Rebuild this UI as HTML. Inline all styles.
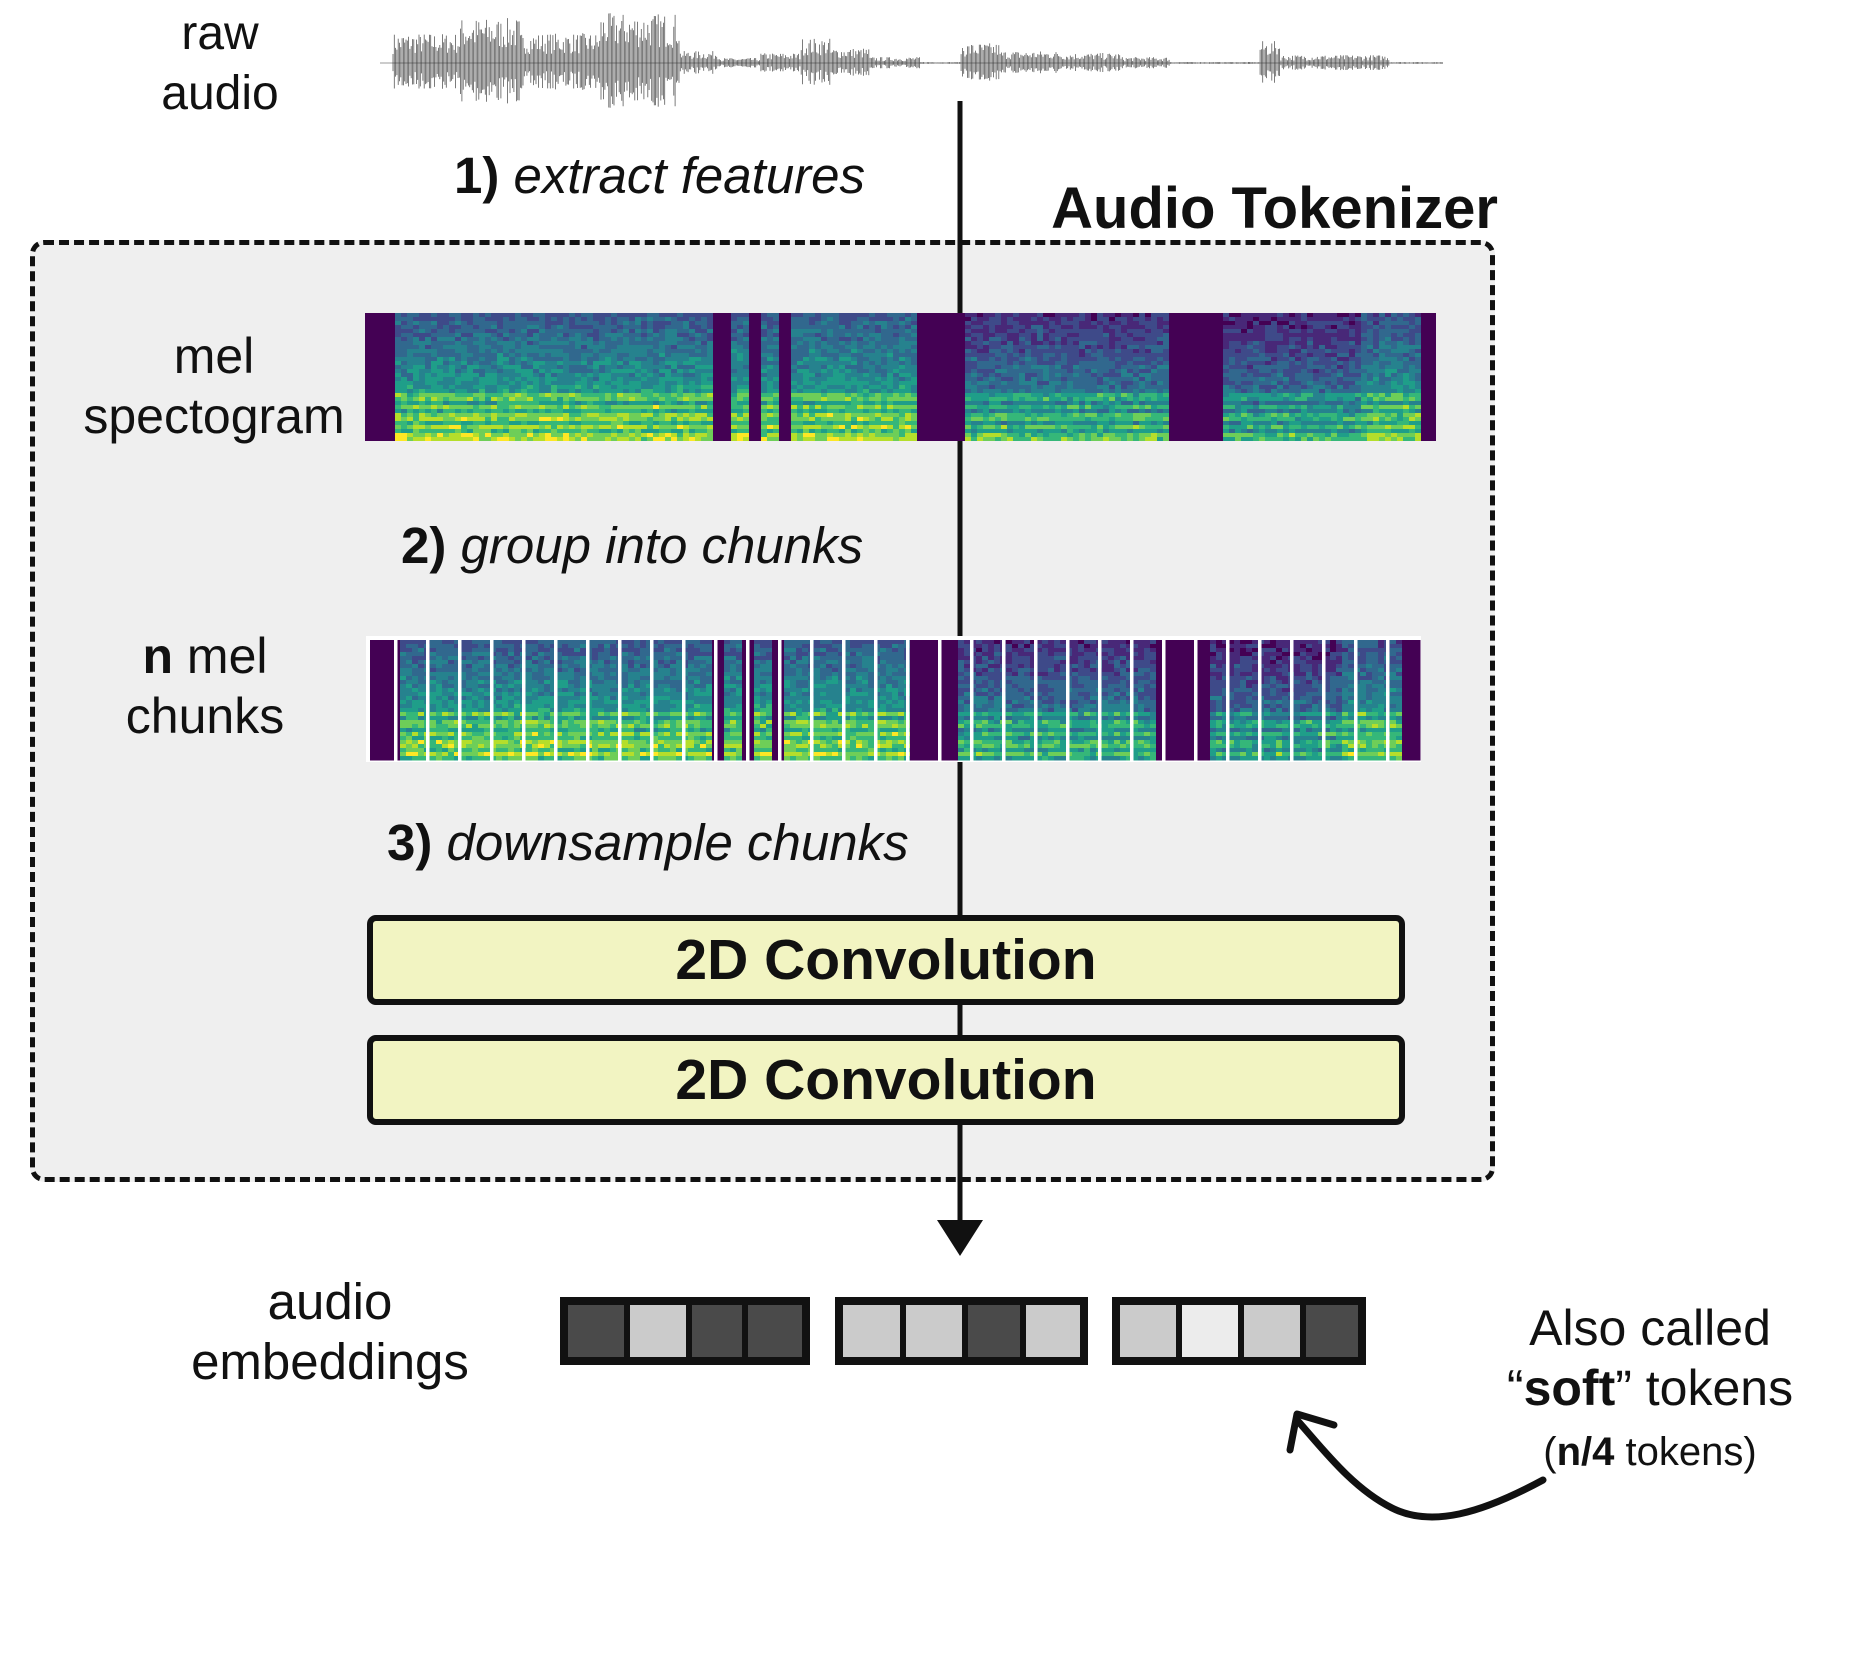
<!DOCTYPE html>
<html><head><meta charset="utf-8"><style>
html,body{margin:0;padding:0;background:#fff;}
body{width:1856px;height:1660px;position:relative;overflow:hidden;font-family:"Liberation Sans",sans-serif;color:#111;}
.t{position:absolute;text-align:center;line-height:1;white-space:nowrap;}
.box{position:absolute;left:30px;top:240px;width:1455px;height:932px;background:#efefef;border:5px dashed #111;border-radius:14px;}
.conv{position:absolute;left:367px;width:1026px;height:78px;background:#f2f4c2;border:6px solid #111;border-radius:9px;font-weight:bold;font-size:57px;text-align:center;line-height:78px;}
</style></head><body>
<svg id="wave" style="position:absolute;left:0;top:0" width="1856" height="130"></svg>
<div class="t" style="left:120px;top:4px;width:200px;font-size:48px;line-height:60px">raw<br>audio</div>
<div class="box"></div>
<svg style="position:absolute;left:0;top:0" width="1856" height="1660">
<line x1="960" y1="101" x2="960" y2="1225" stroke="#111" stroke-width="5"/>
<polygon points="937,1220 983,1220 960,1256" fill="#111"/>
</svg>
<div class="t" style="left:454px;top:150px;font-size:51px"><b>1)</b> <i>extract features</i></div>
<div class="t" style="left:900px;top:180px;width:598px;text-align:right;font-size:58px;font-weight:bold">Audio Tokenizer</div>
<svg id="mel" style="position:absolute;left:365px;top:313px" width="1071" height="128"></svg>
<div class="t" style="left:54px;top:326px;width:320px;font-size:50px;line-height:60px">mel<br>spectogram</div>
<div class="t" style="left:401px;top:520px;font-size:51px"><b>2)</b> <i>group into chunks</i></div>
<svg id="chunks" style="position:absolute;left:366px;top:636px" width="1055" height="126"></svg>
<div class="t" style="left:100px;top:626px;width:210px;font-size:50px;line-height:60px"><b>n</b> mel<br>chunks</div>
<div class="t" style="left:387px;top:817px;font-size:51px"><b>3)</b> <i>downsample chunks</i></div>
<div class="conv" style="top:915px">2D Convolution</div>
<div class="conv" style="top:1035px">2D Convolution</div>
<div class="t" style="left:170px;top:1272px;width:320px;font-size:51px;line-height:60px">audio<br>embeddings</div>
<svg style="position:absolute;left:0;top:0" width="1856" height="1660">
<path d="M1543,1480 C1482,1513 1432,1528 1392,1508 C1352,1488 1322,1448 1297,1420" fill="none" stroke="#111" stroke-width="7" stroke-linecap="round"/>
<path d="M1290,1450 L1297,1414 L1334,1425" fill="none" stroke="#111" stroke-width="7" stroke-linecap="round" stroke-linejoin="round"/>
<g transform="translate(-4,-6)">
<rect x="564" y="1303" width="250" height="68" fill="#111"/>
<rect x="572" y="1311" width="56" height="52" fill="#4a4a4a"/>
<rect x="634" y="1311" width="56" height="52" fill="#cbcbcb"/>
<rect x="696" y="1311" width="50" height="52" fill="#4a4a4a"/>
<rect x="752" y="1311" width="54" height="52" fill="#4a4a4a"/>
<rect x="839" y="1303" width="253" height="68" fill="#111"/>
<rect x="847" y="1311" width="57" height="52" fill="#cbcbcb"/>
<rect x="910" y="1311" width="56" height="52" fill="#cbcbcb"/>
<rect x="972" y="1311" width="52" height="52" fill="#4a4a4a"/>
<rect x="1030" y="1311" width="54" height="52" fill="#cbcbcb"/>
<rect x="1116" y="1303" width="254" height="68" fill="#111"/>
<rect x="1124" y="1311" width="56" height="52" fill="#cbcbcb"/>
<rect x="1186" y="1311" width="56" height="52" fill="#ececec"/>
<rect x="1248" y="1311" width="56" height="52" fill="#cbcbcb"/>
<rect x="1310" y="1311" width="52" height="52" fill="#4a4a4a"/>
</g></svg>
<div class="t" style="left:1470px;top:1298px;width:360px;font-size:50px;line-height:60px">Also called<br>“<b>soft</b>” tokens<br><span style="font-size:40px">(<b>n/4</b> tokens)</span></div>
<script>
function rnd(s){return function(){s=(s*16807)%2147483647;return s/2147483647;}}
var r=rnd(7);
var env=[[393,460,30],[460,520,45],[520,600,30],[600,680,50],[680,720,12],[720,760,5],[760,800,10],[800,830,25],[830,870,15],[870,920,6],[960,1000,20],[1000,1060,12],[1060,1120,10],[1120,1170,6],[1260,1280,22],[1280,1390,8]];
var s='<line x1="380" y1="63" x2="1443" y2="63" stroke="#999" stroke-width="1"/>';
for(var x=393;x<1443;x+=1.3){var a=1;for(var i=0;i<env.length;i++){if(x>=env[i][0]&&x<env[i][1])a=env[i][2];}
var h=a*(0.3+0.7*r());s+='<line x1="'+x.toFixed(1)+'" y1="'+(63-h).toFixed(1)+'" x2="'+x.toFixed(1)+'" y2="'+(63+h*0.9).toFixed(1)+'" stroke="#333" stroke-width="0.8" opacity="0.8"/>';}
document.getElementById('wave').innerHTML=s;
var vir=['#440154','#482878','#3e4a89','#31688e','#26828e','#1f9e89','#35b779','#6ece58','#b5de2b','#fde725'];
var dark=[[0,25],[349,364],[383,395],[413,425],[555,603],[806,860],[1057,1078]];
function isDark(x){for(var i=0;i<dark.length;i++)if(x>=dark[i][0]&&x<dark[i][1])return true;return false;}
function col(x,y,H){ if(isDark(x))return vir[0];
 var f=y/H; var base=1.5+f*3.8+r()*2; if(f>0.6&&Math.floor(y/5)%2==0)base+=1+r()*1.5;
 if(x>600&&x<1000)base-=1.3; if(x>860)base-=0.4;
 var k=Math.max(0,Math.min(9,Math.round(base)));return vir[k];}
function spec(W,H,cw,rh){var o='';for(var x=0;x<W;x+=cw){for(var y=0;y<H;y+=rh){o+='<rect x="'+x+'" y="'+y+'" width="'+(cw+0.5)+'" height="'+(rh+0.5)+'" fill="'+col(x*1078/W,y,H)+'"/>';}}return o;}
document.getElementById('mel').innerHTML=spec(1071,128,6,4);
var c='<rect width="1055" height="126" fill="#fff"/>'+'<g transform="translate(4,4)">'+spec(1047,118,6,4)+'</g>';
for(var x=28;x<1052;x+=32){c+='<rect x="'+x.toFixed(1)+'" y="0" width="3.5" height="126" fill="#fff"/>';}
document.getElementById('chunks').innerHTML=c;
</script>
</body></html>
